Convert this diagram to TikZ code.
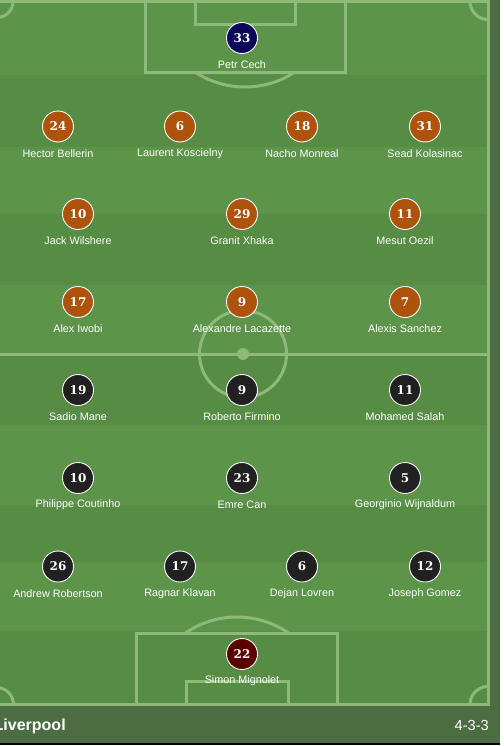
\documentclass[tikz,border=0pt]{standalone}
\usepackage{fontspec}
\setmainfont{Liberation Sans}
\newfontfamily\numfont{DejaVu Serif}
\definecolor{bandL}{HTML}{5C9449}
\definecolor{bandD}{HTML}{568C44}
\definecolor{linec}{HTML}{8DB97B}
\definecolor{stripc}{HTML}{4B6D41}
\definecolor{ars}{HTML}{AD530B}
\definecolor{arsgk}{HTML}{0B0859}
\definecolor{liv}{HTML}{212121}
\definecolor{livgk}{HTML}{5A0000}
\tikzset{
  pl/.style={circle, draw=white, line width=0.9pt, minimum size=31pt, inner sep=0pt,
    text=white, font=\numfont\bfseries\fontsize{12}{12}\selectfont},
  nm/.style={text=white, inner sep=0pt, font=\fontsize{10.8}{12}\selectfont},
  pline/.style={draw=linec, line width=3pt},
}
\newcommand{\plr}[6]{%
  \node[pl, fill=#4] (#1) at (#2,#3) {#5};
  \node[nm] (#1n) at (#2,#3+27) {#6};
}
\begin{document}
\begin{tikzpicture}[x=1pt,y=-1pt]
\useasboundingbox (0,0) rectangle (503,746);
\fill[white] (0,0) rectangle (503,746);
% bands
\fill[bandL] (0,0) rectangle (490,75);
\fill[bandD] (0,75) rectangle (490,147);
\fill[bandL] (0,147) rectangle (490,214);
\fill[bandD] (0,214) rectangle (490,285);
\fill[bandL] (0,285) rectangle (490,354);
\fill[bandD] (0,354) rectangle (490,425);
\fill[bandL] (0,425) rectangle (490,505);
\fill[bandD] (0,505) rectangle (490,562);
\fill[bandL] (0,562) rectangle (490,631);
\fill[bandD] (0,631) rectangle (490,706);
\fill[stripc] (490,0) rectangle (500,706);
\fill[stripc] (0,706) rectangle (500,743);
\fill[black] (0,743) rectangle (500,744.5);
% pitch lines
\draw[pline] (-8,1.5) -- (488,1.5) -- (488,704.5) -- (-8,704.5);
\draw[pline] (-8,354) -- (488,354);
\draw[pline] (243,354) circle[radius=43.5];
\fill[linec] (243,354) circle[radius=6];
\draw[pline] (145.5,1.5) -- (145.5,72.3) -- (345.5,72.3) -- (345.5,1.5);
\draw[pline] (195,1.5) -- (195,24.5) -- (295,24.5) -- (295,1.5);
\draw[pline] (136.7,704.5) -- (136.7,633.3) -- (337,633.3) -- (337,704.5);
\draw[pline] (186,704.5) -- (186,681) -- (288.3,681) -- (288.3,704.5);
\begin{scope}
  \clip (0,72.3) rectangle (488,200);
  \draw[pline] (245,-3.8) circle[radius=90.8];
\end{scope}
\begin{scope}
  \clip (0,500) rectangle (488,633.3);
  \draw[pline] (237,707.8) circle[radius=90.8];
\end{scope}
\begin{scope}
  \clip (-10,1.5) rectangle (488,704.5);
  \draw[pline] (-3,1.5) circle[radius=16];
  \draw[pline] (488,1.5) circle[radius=18];
  \draw[pline] (-3.5,704.5) circle[radius=17];
  \draw[pline] (488,704.5) circle[radius=18];
\end{scope}
% Arsenal
\plr{cech}{242}{38}{arsgk}{33}{Petr Cech}
\plr{bellerin}{58}{126.5}{ars}{24}{Hector Bellerin}
\plr{koscielny}{180}{126.5}{ars}{6}{Laurent Koscielny}
\plr{monreal}{302}{126.5}{ars}{18}{Nacho Monreal}
\plr{kolasinac}{425}{126.5}{ars}{31}{Sead Kolasinac}
\plr{wilshere}{78}{214}{ars}{10}{Jack Wilshere}
\plr{xhaka}{242}{214}{ars}{29}{Granit Xhaka}
\plr{oezil}{405}{214}{ars}{11}{Mesut Oezil}
\plr{iwobi}{78}{302}{ars}{17}{Alex Iwobi}
\plr{lacazette}{242}{302}{ars}{9}{Alexandre Lacazette}
\plr{sanchez}{405}{302}{ars}{7}{Alexis Sanchez}
% Liverpool
\plr{mane}{78}{390}{liv}{19}{Sadio Mane}
\plr{firmino}{242}{390}{liv}{9}{Roberto Firmino}
\plr{salah}{405}{390}{liv}{11}{Mohamed Salah}
\plr{coutinho}{78}{478}{liv}{10}{Philippe Coutinho}
\plr{can}{242}{478}{liv}{23}{Emre Can}
\plr{wijnaldum}{405}{478}{liv}{5}{Georginio Wijnaldum}
\plr{robertson}{58}{566.5}{liv}{26}{Andrew Robertson}
\plr{klavan}{180}{566.5}{liv}{17}{Ragnar Klavan}
\plr{lovren}{302}{566.5}{liv}{6}{Dejan Lovren}
\plr{gomez}{425}{566.5}{liv}{12}{Joseph Gomez}
\plr{mignolet}{242}{654}{livgk}{22}{Simon Mignolet}
% footer
\node[anchor=base west, inner sep=0pt, text=white, font=\bfseries\fontsize{16}{16}\selectfont] (team) at (-6.5,730) {Liverpool};
\node[anchor=base east, inner sep=0pt, text=white, font=\fontsize{14.6}{15}\selectfont] (formation) at (489,730) {4-3-3};
\end{tikzpicture}
\end{document}
